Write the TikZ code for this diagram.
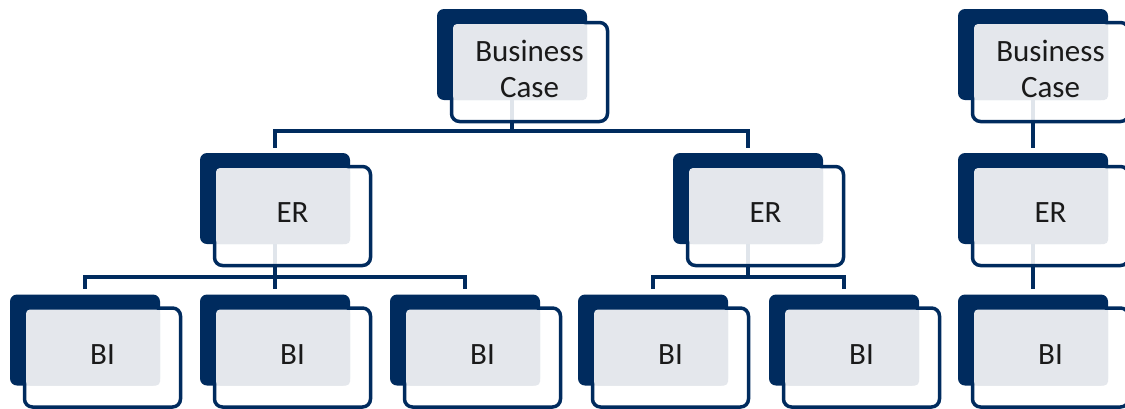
\documentclass[tikz,border=0pt]{standalone}
\usepackage{fontspec}
\setmainfont{Carlito}
\usepackage{tikz}
\usetikzlibrary{calc}
\usepackage{xcolor}
\definecolor{navy-blue}{HTML}{002B5E}
\definecolor{panel-grey}{HTML}{E4E7EC}
\definecolor{ink-grey}{HTML}{1A1A1A}
\pgfdeclarelayer{background}
\pgfsetlayers{background,main}

% one card: name, centre of the dark back, text
\newcommand{\orgcard}[4]{%
    \node[card back] (#1) at (#2, #3) {};
    \node[card front] (#1-f) at ([shift={(17.5, 17.5)}]#1.center) {};
    \node[card panel] (#1-p) at ([shift={(8, 7.5)}]#1.center) {};
    \node[card text] (#1-t) at ([shift={(17.5, 14.5)}]#1.center) {#4};
}

\begin{document}
\begin{tikzpicture}[x=1pt, y=-1pt,
    card back/.style={fill=navy-blue, rounded corners=7pt, inner sep=0pt,
        minimum width=150pt, minimum height=91pt},
    card front/.style={draw=navy-blue, line width=3.5pt, fill=white, fill opacity=0.88,
        rounded corners=8pt, inner sep=0pt, minimum width=156pt, minimum height=99pt},
    card panel/.style={fill=panel-grey, rounded corners=4pt, inner sep=0pt,
        minimum width=134pt, minimum height=76pt},
    card text/.style={text=ink-grey, align=center, inner sep=0pt,
        font=\fontsize{31}{36}\selectfont},
    link/.style={draw=navy-blue, line width=3.5pt, shorten >=5pt}]
    \useasboundingbox (0, 0) rectangle (1125, 408);

    \orgcard{bc1}{512}{54.5}{Business\\Case}
    \orgcard{bc2}{1033}{54.5}{Business\\Case}

    \orgcard{er1}{275}{198.5}{ER}
    \orgcard{er2}{748}{198.5}{ER}
    \orgcard{er3}{1033}{198.5}{ER}

    \orgcard{bi1}{85}{340}{BI}
    \orgcard{bi2}{275}{340}{BI}
    \orgcard{bi3}{465}{340}{BI}
    \orgcard{bi4}{653}{340}{BI}
    \orgcard{bi5}{844}{340}{BI}
    \orgcard{bi6}{1033}{340}{BI}

    \begin{pgfonlayer}{background}
    \draw[link] (bc1.south) -- ++(0, 31) -| (er1.north);
    \draw[link] (bc1.south) -- ++(0, 31) -| (er2.north);
    \draw[link] (bc2.south) -- (er3.north);

    \draw[link] (er1.south) -- ++(0, 33) -| (bi1.north);
    \draw[link] (er1.south) -- (bi2.north);
    \draw[link] (er1.south) -- ++(0, 33) -| (bi3.north);
    \draw[link] (er2.south) -- ++(0, 33) -| (bi4.north);
    \draw[link] (er2.south) -- ++(0, 33) -| (bi5.north);
    \draw[link] (er3.south) -- (bi6.north);
    \end{pgfonlayer}
\end{tikzpicture}
\end{document}
